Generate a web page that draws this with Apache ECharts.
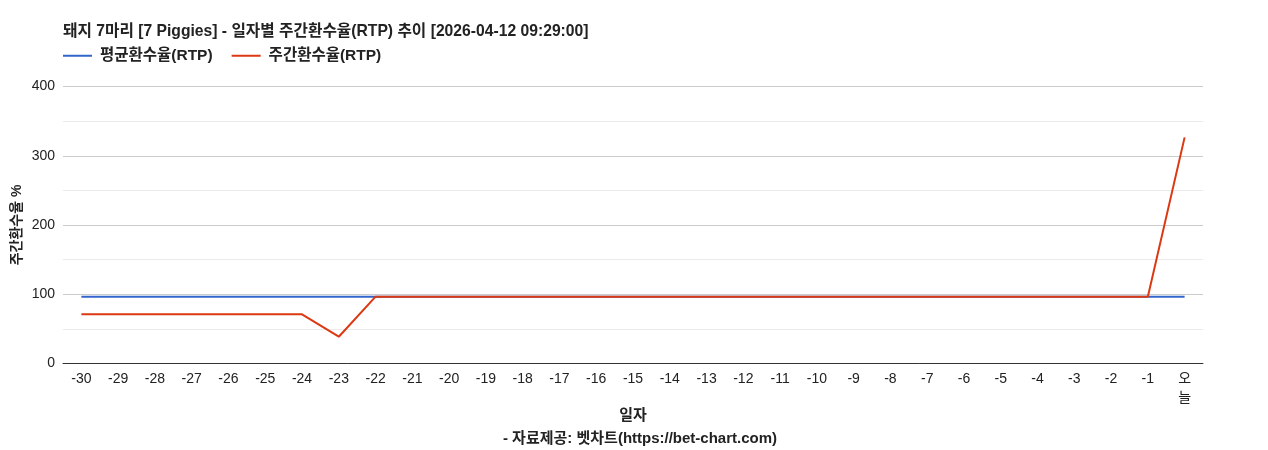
<!DOCTYPE html>
<html lang="ko">
<head>
  <meta charset="UTF-8">
  <title>돼지 7마리 RTP 추이</title>
  <script src="https://cdn.jsdelivr.net/npm/echarts@6/dist/echarts.min.js"></script>
  <style>
    html, body { margin: 0; padding: 0; background: #fff; }
    #chart { width: 1268px; height: 450px; }
  </style>
</head>
<body>
  <div id="chart"></div>
  <script>
    // 일자 (x축 카테고리)
    const days = ['-30', '-29', '-28', '-27', '-26', '-25', '-24', '-23', '-22', '-21', '-20',
      '-19', '-18', '-17', '-16', '-15', '-14', '-13', '-12', '-11', '-10',
      '-9', '-8', '-7', '-6', '-5', '-4', '-3', '-2', '-1', '오늘'];

    // 평균환수율(RTP)
    const avgRtp = [96.5, 96.5, 96.5, 96.5, 96.5, 96.5, 96.5, 96.5, 96.5, 96.5, 96.5,
      96.5, 96.5, 96.5, 96.5, 96.5, 96.5, 96.5, 96.5, 96.5, 96.5,
      96.5, 96.5, 96.5, 96.5, 96.5, 96.5, 96.5, 96.5, 96.5, 96.5];

    // 주간환수율(RTP)
    const weeklyRtp = [71, 71, 71, 71, 71, 71, 71, 38.7, 96.5, 96.5, 96.5,
      96.5, 96.5, 96.5, 96.5, 96.5, 96.5, 96.5, 96.5, 96.5, 96.5,
      96.5, 96.5, 96.5, 96.5, 96.5, 96.5, 96.5, 96.5, 96.5, 326.5];

    const yTicks = [0, 100, 200, 300, 400];

    const font = 'Arial, "Liberation Sans", "Noto Sans CJK KR", sans-serif';
    const chart = echarts.init(document.getElementById('chart'));

    chart.setOption({
      animation: false,
      backgroundColor: '#ffffff',
      textStyle: { fontFamily: font },
      title: [
        {
          text: '돼지 7마리 [7 Piggies] - 일자별 주간환수율(RTP) 추이 [2026-04-12 09:29:00]',
          left: 63,
          top: 24,
          padding: 0,
          textStyle: { fontSize: 15.7, fontWeight: 'bold', color: '#222', fontFamily: font }
        },
        {
          text: '- 자료제공: 벳차트(https://bet-chart.com)',
          left: 640,
          top: 431,
          padding: 0,
          textAlign: 'center',
          textStyle: { fontSize: 15, fontWeight: 'bold', color: '#222', fontFamily: font }
        }
      ],
      legend: {
        left: 63,
        top: 48,
        padding: 0,
        icon: 'rect',
        itemWidth: 29,
        itemHeight: 2,
        itemGap: 19,
        textStyle: { fontSize: 15.5, fontWeight: 'bold', color: '#222', fontFamily: font, padding: [0, 0, 0, 3] },
        data: ['평균환수율(RTP)', '주간환수율(RTP)']
      },
      grid: {
        left: 63,
        right: 65,
        top: 86.5,
        bottom: 86.5,
        containLabel: false,
        outerBoundsMode: 'none'
      },
      xAxis: {
        type: 'category',
        data: days,
        boundaryGap: true,
        name: '일자',
        nameLocation: 'middle',
        nameGap: 45,
        nameMoveOverlap: false,
        nameTextStyle: { fontSize: 15, fontWeight: 'bold', color: '#222' },
        axisLine: { lineStyle: { color: '#333', width: 1 } },
        axisTick: { show: false },
        axisLabel: {
          interval: 0,
          margin: 6,
          fontSize: 14,
          lineHeight: 19,
          color: '#222',
          formatter: v => (v === '오늘' ? '오\n늘' : v)
        }
      },
      yAxis: {
        type: 'value',
        min: yTicks[0],
        max: yTicks[yTicks.length - 1],
        interval: 100,
        name: '주간환수율 %',
        nameLocation: 'middle',
        nameRotate: 90,
        nameGap: 39,
        nameMoveOverlap: false,
        nameTextStyle: { fontSize: 14, fontWeight: 'bold', color: '#222' },
        axisLine: { show: false },
        axisTick: { show: false },
        axisLabel: { fontSize: 14, color: '#222', margin: 8 },
        splitLine: { lineStyle: { color: '#cccccc', width: 1 } },
        minorTick: { show: false, splitNumber: 2 },
        minorSplitLine: { show: true, lineStyle: { color: '#ebebeb', width: 1 } }
      },
      series: [
        {
          name: '평균환수율(RTP)',
          type: 'line',
          data: avgRtp,
          symbol: 'none',
          color: '#3366cc',
          lineStyle: { width: 2, color: '#3366cc' }
        },
        {
          name: '주간환수율(RTP)',
          type: 'line',
          data: weeklyRtp,
          symbol: 'none',
          color: '#dc3912',
          lineStyle: { width: 2, color: '#dc3912' }
        }
      ]
    });
  </script>
</body>
</html>
